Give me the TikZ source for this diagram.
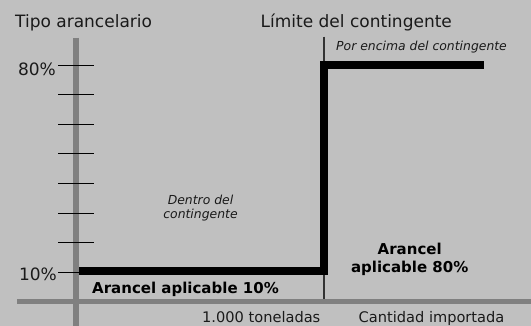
\documentclass[tikz,border=0pt]{standalone}
\usepackage{fontspec}
\setmainfont{DejaVu Sans}
\usetikzlibrary{arrows,shapes}
\definecolor{bggrey}{HTML}{C0C0C0}
\definecolor{axisgrey}{HTML}{808080}
\definecolor{inkgrey}{HTML}{1A1A1A}

\begin{document}
\begin{tikzpicture}[x=1pt,y=-1pt,
  axislabel/.style={inner sep=0pt,text=inkgrey,font=\fontsize{17}{20}\selectfont},
  qtylabel/.style={inner sep=0pt,text=inkgrey,font=\fontsize{14.6}{18}\selectfont},
  zonelabel/.style={inner sep=0pt,text=inkgrey,font=\fontsize{12.4}{14.3}\selectfont\itshape},
  ratelabel/.style={inner sep=0pt,font=\fontsize{15}{18.4}\selectfont\bfseries},
  tick/.style={black,line width=0.9pt}]

\useasboundingbox[fill=bggrey] (0,0) rectangle (531,326);

% Main axis
\draw[][axisgrey,line width=6pt] (76,38) -- (76,326);
\draw[][axisgrey,line width=5pt] (17,301.5) -- (531,301.5);

% Tariff rates
\foreach \k in {0,...,7}
  \draw[tick] (58,65+29.6*\k) -- (94,65+29.6*\k);
\node[axislabel,anchor=base east] (r80) at (56,76) {80\%};
\node[axislabel,anchor=base east] (r10) at (57,280) {10\%};

% Quota limit
\coordinate (q0) at (324,36.7);
\coordinate (q1) at (324,61.7);
\coordinate (q2) at (324,275);
\coordinate (q3) at (324,299);
\draw[][black!80,line width=1.2pt] (q0) -- (q1);
\draw[][black!80,line width=1.2pt] (q2) -- (q3);

% Applied tariff
\coordinate (a) at (79,271.5);
\coordinate (b) at (324,271.5);
\coordinate (c) at (324,65.3);
\coordinate (d) at (484,65.3);
\draw[][black,line width=8pt] (a) -- (b) -- (c) -- (d);

% Labels
\node[axislabel,anchor=base west] (tipo) at (15,27.3) {Tipo arancelario};
\node[axislabel,anchor=base west] (lim) at (260.5,27.3) {Límite del contingente};
\node[zonelabel,anchor=base west] (above) at (336,50.5) {Por encima del contingente};
\node[zonelabel,align=center] (within) at (200.5,208) {Dentro del\\contingente};
\node[ratelabel,anchor=base west] (ten) at (92,293.3) {Arancel aplicable 10\%};
\node[ratelabel,align=center] (eighty) at (409.7,259.6) {Arancel\\aplicable 80\%};
\node[qtylabel,anchor=base west] (ton) at (202,322.2) {1.000 toneladas};
\node[qtylabel,anchor=base west] (qty) at (358.5,322.2) {Cantidad importada};

\end{tikzpicture}
\end{document}
